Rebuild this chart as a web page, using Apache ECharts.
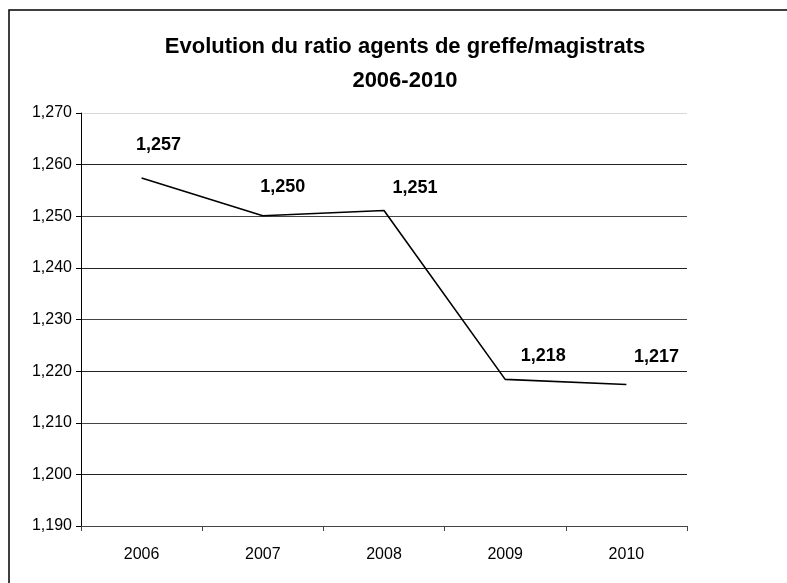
<!DOCTYPE html>
<html>
<head>
<meta charset="utf-8">
<title>Evolution du ratio agents de greffe/magistrats</title>
<script src="https://cdn.jsdelivr.net/npm/echarts@6/dist/echarts.min.js"></script>
<style>
  html, body { margin: 0; padding: 0; background: #fff; }
  #chart { width: 787px; height: 583px; }
</style>
</head>
<body>
<div id="chart"></div>
<script>
// ------------------------------------------------------------------
// Données
// ------------------------------------------------------------------
const years = ['2006', '2007', '2008', '2009', '2010']
const ratios = [1.2574, 1.2501, 1.2511, 1.2184, 1.2174]
const ratioLabels = ['1,257', '1,250', '1,251', '1,218', '1,217']

// décalage des étiquettes (style, pas des données)
const labelShift = [[17, -33], [20, -29], [31, -23], [38, -23], [30, -28]]

const FONT = '"Liberation Sans", Arial, sans-serif'

const chart = echarts.init(document.getElementById('chart'))

chart.setOption({
  animation: false,
  backgroundColor: '#fff',
  textStyle: { fontFamily: FONT },
  title: {
    text: 'Evolution du ratio agents de greffe/magistrats\n2006-2010',
    left: 400,
    top: 25,
    textAlign: 'center',
    textStyle: {
      fontFamily: FONT,
      fontSize: 22,
      fontWeight: 'bold',
      color: '#000',
      lineHeight: 34,
    },
  },
  graphic: [
    {
      type: 'rect',
      shape: { x: 9, y: 10, width: 900, height: 900 },
      style: { fill: 'none', stroke: '#000', lineWidth: 1.5 },
      silent: true,
    },
  ],
  grid: {
    left: 81,
    right: 100,
    top: 113,
    bottom: 57,
  },
  xAxis: {
    type: 'category',
    data: years,
    boundaryGap: true,
    axisLine: { lineStyle: { color: '#444', width: 1 } },
    axisTick: { show: true, interval: 0, length: 5, lineStyle: { color: '#444' } },
    axisLabel: { color: '#000', fontSize: 16, fontFamily: FONT, margin: 21 },
    splitLine: { show: false },
  },
  yAxis: {
    type: 'value',
    min: 1.19,
    max: 1.27,
    interval: 0.01,
    axisLine: { show: true, lineStyle: { color: '#000', width: 1 } },
    axisTick: { show: true, length: 5, lineStyle: { color: '#000' } },
    axisLabel: {
      color: '#000',
      fontSize: 16,
      fontFamily: FONT,
      margin: 9,
      formatter: (v) => v.toFixed(3).replace('.', ','),
    },
    splitLine: {
      show: true,
      lineStyle: {
        color: ['#333', '#222', '#444', '#222', '#444', '#222', '#444', '#222', '#d8d8d8'],
        width: 1,
      },
    },
  },
  series: [
    {
      type: 'line',
      data: ratios.map((v, i) => ({
        value: v,
        label: {
          formatter: ratioLabels[i],
          offset: labelShift[i],
        },
      })),
      symbol: 'circle',
      symbolSize: 0.1,
      showSymbol: true,
      itemStyle: { color: '#000' },
      lineStyle: { color: '#000', width: 1.6 },
      label: {
        show: true,
        position: 'inside',
        align: 'center',
        verticalAlign: 'middle',
        color: '#000',
        fontSize: 18,
        fontWeight: 'bold',
        fontFamily: FONT,
      },
    },
  ],
})
</script>
</body>
</html>
